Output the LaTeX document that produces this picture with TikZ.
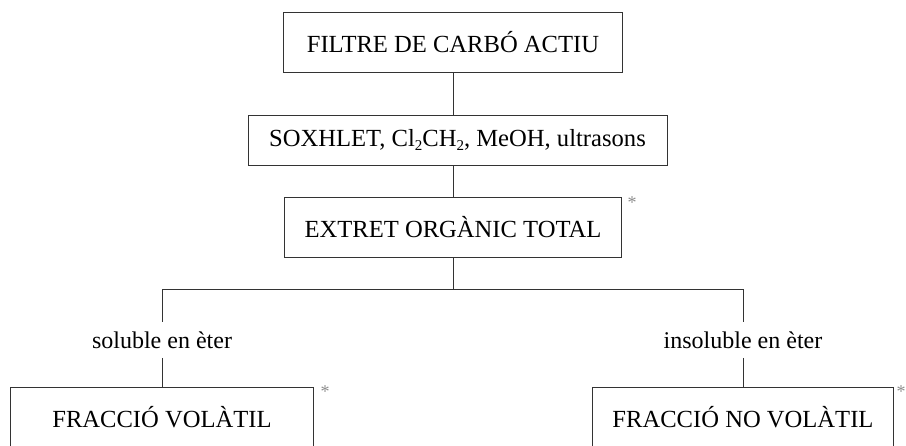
\documentclass[tikz,border=0pt]{standalone}
\usepackage{fontspec}
\setmainfont{Liberation Serif}
\usetikzlibrary{positioning}

\tikzset{
  box/.style={draw=black!80,line width=0.5pt,minimum height=30pt,inner sep=0pt,font=\fontsize{12.3}{14}\selectfont},
  tag/.style={inner sep=4.5pt,font=\fontsize{12}{14}\selectfont},
  star/.style={text=black!45,inner sep=0pt,font=\fontsize{9}{10}\selectfont},
  link/.style={draw=black!80,line width=0.5pt}
}
\newcommand{\lowtwo}{\raisebox{-0.35ex}{\fontsize{7.5}{8}\selectfont 2}}

\begin{document}
\begin{tikzpicture}[x=0.5pt,y=-0.5pt]
  \useasboundingbox (0,0) rectangle (906,445);

  \node [box,minimum width=169.5pt]                   (filtre)  at (453,42.5) {FILTRE DE CARBÓ ACTIU};
  \node [box,minimum width=209.5pt,minimum height=25pt] (soxhlet) at (457.5,140)  {SOXHLET, Cl\lowtwo CH\lowtwo, MeOH, ultrasons};
  \node [box,minimum width=168.5pt]                   (extret)  at (453,227)  {EXTRET ORGÀNIC TOTAL};

  \node [tag] (soluble)   at (162,340) {soluble en èter};
  \node [tag] (insoluble) at (743,340) {insoluble en èter};

  \node [box,minimum width=151.5pt] (volatil)   at (162,417) {FRACCIÓ VOLÀTIL};
  \node [box,minimum width=150.5pt] (novolatil) at (743,417) {FRACCIÓ NO VOLÀTIL};

  \node [star] (s1) at (632,203) {*};
  \node [star] (s2) at (325,392) {*};
  \node [star] (s3) at (901,392) {*};

  \draw [link] (filtre.south) -- (soxhlet.north -| filtre);
  \draw [link] (soxhlet.south -| extret) -- (extret.north);
  \coordinate (split) at (453,289);
  \draw [link] (extret.south) -- (split);
  \draw [link] (split -| soluble) -- (split -| insoluble);
  \draw [link] (split -| soluble) -- (soluble.north);
  \draw [link] (split -| insoluble) -- (insoluble.north);
  \draw [link] (soluble.south) -- (volatil.north);
  \draw [link] (insoluble.south) -- (novolatil.north);
\end{tikzpicture}
\end{document}
